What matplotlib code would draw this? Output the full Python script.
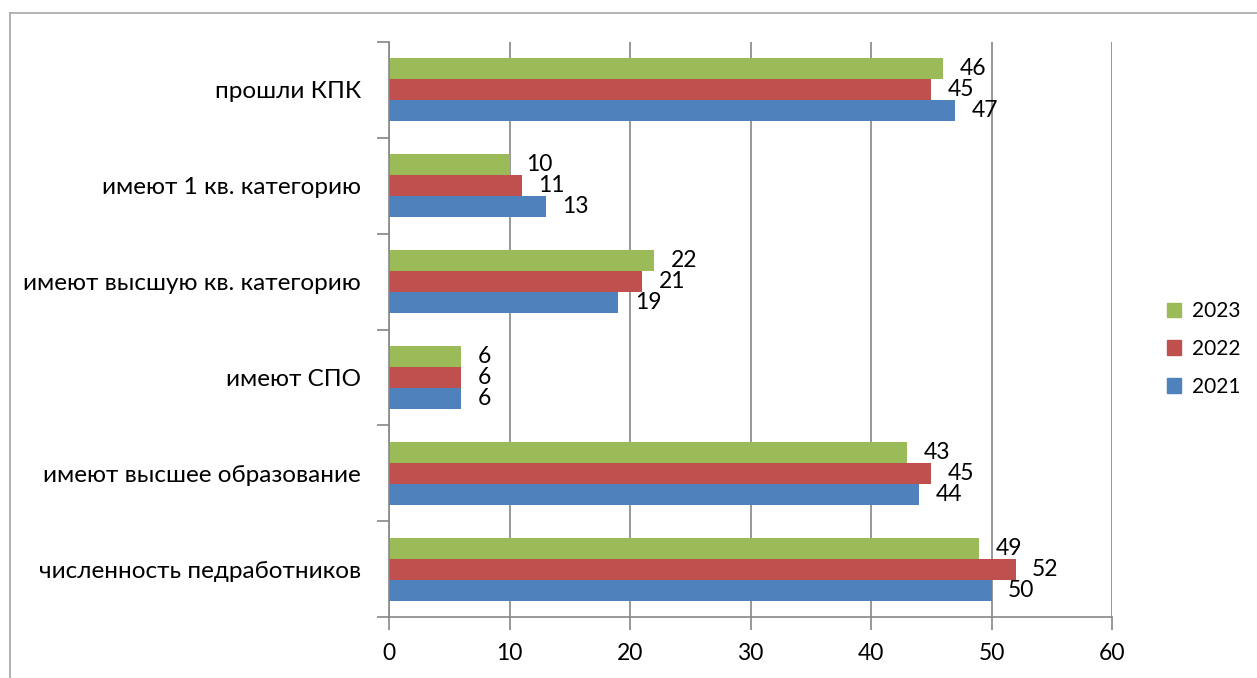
import numpy as np
import matplotlib.pyplot as plt
from matplotlib.lines import Line2D
from matplotlib.patches import Patch

categories = ["численность педработников", "имеют высшее образование", "имеют СПО",
              "имеют высшую кв. категорию", "имеют 1 кв. категорию", "прошли КПК"]
years = ["2021", "2022", "2023"]
v2021 = [50, 44, 6, 19, 13, 47]
v2022 = [52, 45, 6, 21, 11, 45]
v2023 = [49, 43, 6, 22, 10, 46]
xticks = [0, 10, 20, 30, 40, 50, 60]

colors = ["#4F81BD", "#C0504D", "#9BBB59"]
plt.rcParams['font.family'] = ['Lato', 'DejaVu Sans']
fs_cat = 17.5
fs_num = 16.5

fig = plt.figure(figsize=(12.57, 6.78), dpi=100)
ax = fig.add_axes([389/1257, 1 - 617/678, (1112-389)/1257, (617-42)/678])

y = np.arange(len(categories))
h = 0.219
series = [v2021, v2022, v2023]
for k, vals in enumerate(series):
    bars = ax.barh(y + (k - 1) * h, vals, height=h, color=colors[k], zorder=3)
    ax.bar_label(bars, labels=[str(v) for v in vals], padding=12, fontsize=fs_num, color="black")

ax.set_xlim(0, 60)
ax.set_ylim(-0.5, len(categories) - 0.5)
ax.set_xticks(xticks)
ax.set_xticklabels([str(t) for t in xticks], fontsize=fs_num)
ax.set_yticks(y)
ax.set_yticklabels(categories, fontsize=fs_cat)
ax.set_yticks(np.arange(-0.5, len(categories), 1), minor=True)
ax.tick_params(axis="y", which="major", length=0, pad=20)
ax.tick_params(axis="y", which="minor", length=9, color="#868686", width=1.2)
ax.tick_params(axis="x", which="major", length=9, color="#868686", width=1.2, pad=10)
ax.grid(axis="x", color="#868686", linewidth=1.2, zorder=0)
for s in ["top", "right"]:
    ax.spines[s].set_visible(False)
for s in ["left", "bottom"]:
    ax.spines[s].set_color("#868686")
    ax.spines[s].set_linewidth(1.2)
    ax.spines[s].set_zorder(4)

handles = [Patch(color=colors[k], label=years[k]) for k in [2, 1, 0]]
fig.legend(handles=handles, loc="center left", bbox_to_anchor=(1148/1257, 1 - 349/678),
           frameon=False, fontsize=15, handlelength=0.7, handleheight=0.7,
           handletextpad=0.5, labelspacing=0.85)

# outer frame
fig.add_artist(Line2D([10/1257, 10/1257], [0, 1 - 13/678], color="#a6a6a6", lw=1.2))
fig.add_artist(Line2D([10/1257, 1], [1 - 13/678, 1 - 13/678], color="#a6a6a6", lw=1.2))

fig.savefig("out.png", dpi=100)
